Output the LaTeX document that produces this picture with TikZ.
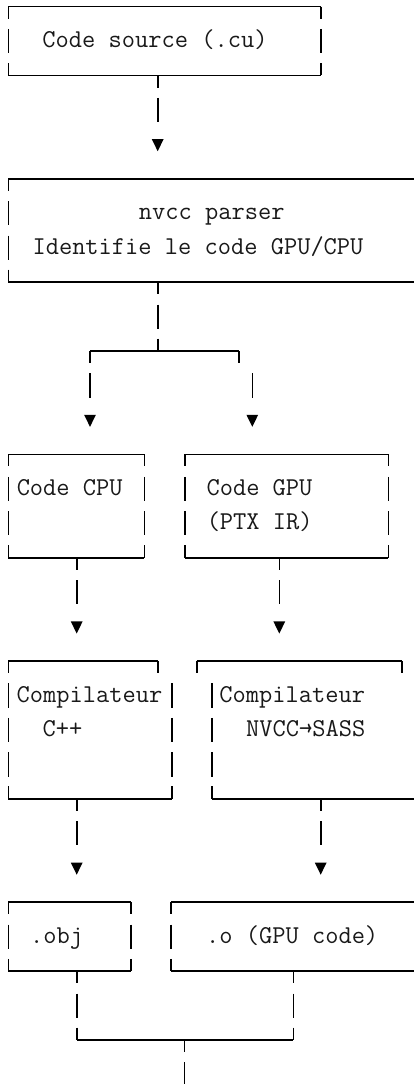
\documentclass[tikz,border=0pt]{standalone}
\usepackage{fontspec}
\begin{document}
\begin{tikzpicture}[x=1pt,y=-34.45pt,
  ln/.style={line width=1.6pt,line cap=butt},
  lbl/.style={inner sep=0pt,anchor=base,font=\ttfamily\fontsize{25.7}{30}\selectfont,text=black!90},
  tip/.style={fill=black}]
\useasboundingbox (0,-0.19) rectangle (414,31.276);
% helpers: vertical glyph segments and arrow heads
\newcommand\vseg[2]{\draw[ln] (#1,#2-0.35) -- (#1,#2+0.35);}
\newcommand\vdown[2]{\draw[ln] (#1,#2) -- (#1,#2+0.35);}
\newcommand\vup[2]{\draw[ln] (#1,#2-0.36) -- (#1,#2);}
\newcommand\tri[2]{\fill[tip] (#1-5.9,#2-0.15) -- (#1+5.9,#2-0.15) -- (#1,#2+0.2) -- cycle;}

% ---------- texts ----------
\node[lbl] (src)   at (155,1.19)   {Code source (.cu)};
\node[lbl] (nv1)   at (211.7,6.19) {nvcc parser};
\node[lbl] (nv2)   at (198,7.19)   {Identifie le code GPU/CPU};
\node[lbl] (cpu)   at (69.7,14.19) {Code CPU};
\node[lbl] (gpu1)  at (259.5,14.19){Code GPU};
\node[lbl] (gpu2)  at (259.7,15.19){(PTX IR)};
\node[lbl] (cc1)   at (89.5,20.19) {Compilateur};
\node[lbl] (cc2)   at (62.5,21.19) {C++};
\node[lbl] (gc1)   at (292.2,20.19){Compilateur};
\node[lbl] (gc2)   at (305.8,21.19){NVCC→SASS};
\node[lbl] (obj)   at (56.7,27.19) {.obj};
\node[lbl] (ocode) at (292.2,27.19){.o (GPU code)};

% ---------- box: Code source ----------
\draw[ln] (8.3,0) -- (320.7,0);
\vdown{8.3}{0}\vdown{320.7}{0}
\vseg{8.3}{1}\vseg{320.7}{1}
\draw[ln] (8.3,2) -- (320.7,2);
\vup{8.3}{2}\vup{320.7}{2}\vdown{157.7}{2}
\vseg{157.7}{3}\tri{157.7}{4}

% ---------- box: nvcc parser ----------
\draw[ln] (8.3,5) -- (420,5);
\vdown{8.3}{5}
\vseg{8.3}{6}\vseg{8.3}{7}
\draw[ln] (8.3,8) -- (420,8);
\vup{8.3}{8}\vdown{157.7}{8}
\vseg{157.7}{9}
% split
\draw[ln] (90,10) -- (239,10);
\vup{157.7}{10}\vdown{90}{10}\vdown{239}{10}
\vseg{90}{11}\vseg{252.3}{11}
\tri{90}{12}\tri{252.3}{12}

% ---------- box: Code CPU ----------
\draw[ln] (8.3,13) -- (144.3,13);
\vdown{8.3}{13}\vdown{144.3}{13}
\vseg{8.3}{14}\vseg{144.3}{14}\vseg{8.3}{15}\vseg{144.3}{15}
\draw[ln] (8.3,16) -- (144.3,16);
\vup{8.3}{16}\vup{144.3}{16}\vdown{76.7}{16}
% ---------- box: Code GPU ----------
\draw[ln] (185,13) -- (388.3,13);
\vdown{185}{13}\vdown{388.3}{13}
\vseg{185}{14}\vseg{388.3}{14}\vseg{185}{15}\vseg{388.3}{15}
\draw[ln] (185,16) -- (388.3,16);
\vup{185}{16}\vup{388.3}{16}\vdown{279.3}{16}
\vseg{76.7}{17}\vseg{279.3}{17}
\tri{76.7}{18}\tri{279.3}{18}

% ---------- box: Compilateur C++ ----------
\draw[ln] (8.3,19) -- (157.7,19);
\vdown{8.3}{19}\vdown{157.7}{19}
\vseg{8.3}{20}\vseg{171.7}{20}\vseg{8.3}{21}\vseg{171.7}{21}\vseg{8.3}{22}\vseg{171.7}{22}
\draw[ln] (8.3,23) -- (171.7,23);
\vup{8.3}{23}\vup{171.7}{23}\vdown{76.7}{23}
% ---------- box: Compilateur NVCC ----------
\draw[ln] (196.7,19) -- (401.7,19);
\vdown{196.7}{19}\vdown{401.7}{19}
\vseg{211.7}{20}\vseg{211.7}{21}\vseg{211.7}{22}
\draw[ln] (211.7,23) -- (420,23);
\vup{211.7}{23}\vdown{320.7}{23}
\vseg{76.7}{24}\vseg{320.7}{24}
\tri{76.7}{25}\tri{320.7}{25}

% ---------- box: .obj ----------
\draw[ln] (8.3,26) -- (130.7,26);
\vdown{8.3}{26}\vdown{130.7}{26}
\vseg{8.3}{27}\vseg{130.7}{27}
\draw[ln] (8.3,28) -- (130.7,28);
\vup{8.3}{28}\vup{130.7}{28}\vdown{76.7}{28}
% ---------- box: .o ----------
\draw[ln] (171,26) -- (420,26);
\vdown{171}{26}
\vseg{171}{27}
\draw[ln] (171,28) -- (420,28);
\vup{171}{28}\vdown{293.3}{28}
% ---------- merge ----------
\vseg{76.7}{29}\vseg{293.3}{29}
\draw[ln] (76.7,30) -- (293.3,30);
\vup{76.7}{30}\vup{293.3}{30}\vdown{184.3}{30}
\vseg{184.3}{31}
\end{tikzpicture}
\end{document}
